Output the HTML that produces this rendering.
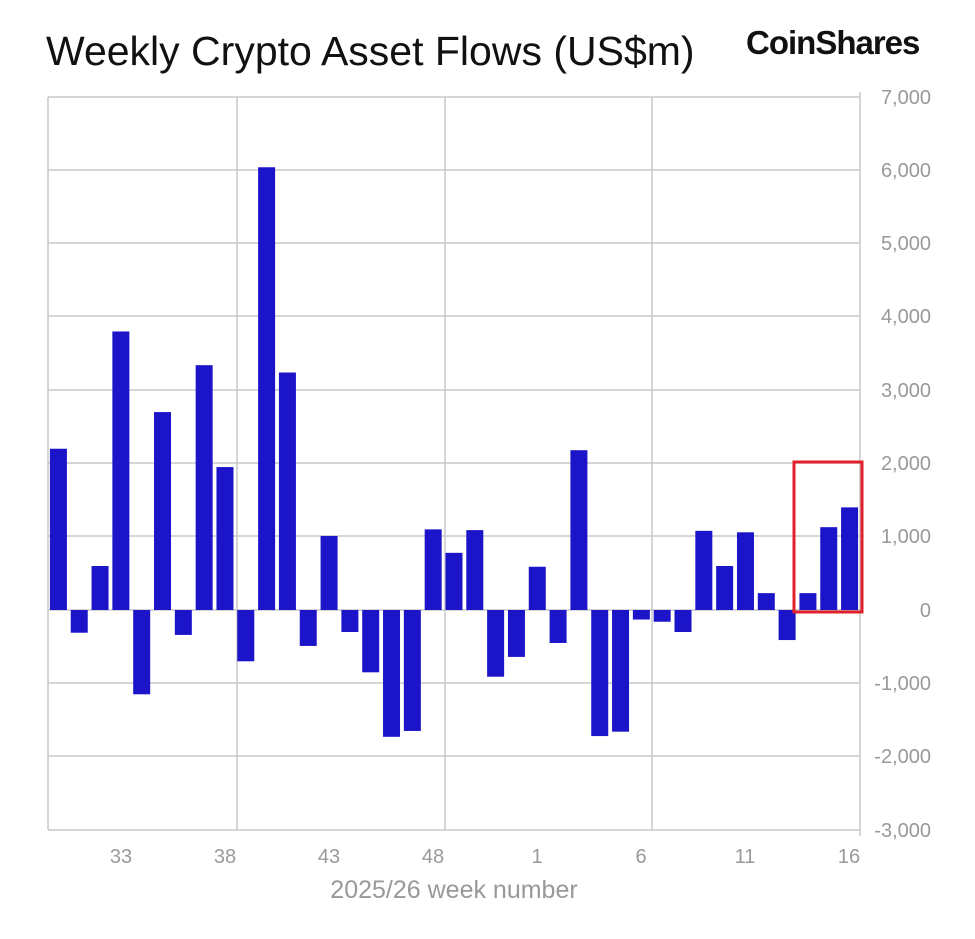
<!DOCTYPE html>
<html><head><meta charset="utf-8"><style>
body{margin:0;background:#fff;}
svg{display:block;font-family:"Liberation Sans",sans-serif;}
</style></head><body>
<svg id="c" width="975" height="939" viewBox="0 0 975 939">
<rect width="975" height="939" fill="#fff"/>
<text x="46" y="65" font-size="41" fill="#111">Weekly Crypto Asset Flows (US$m)</text>
<text x="746" y="54" font-size="33" font-weight="bold" fill="#111" letter-spacing="-1">CoinShares</text>
<g stroke="#c8c8c8" stroke-width="1.5">
<line x1="48" y1="97" x2="860" y2="97"/><line x1="48" y1="170" x2="860" y2="170"/>
<line x1="48" y1="243" x2="860" y2="243"/><line x1="48" y1="316" x2="860" y2="316"/>
<line x1="48" y1="390" x2="860" y2="390"/><line x1="48" y1="463" x2="860" y2="463"/>
<line x1="48" y1="536" x2="860" y2="536"/><line x1="48" y1="610" x2="860" y2="610"/>
<line x1="48" y1="683" x2="860" y2="683"/><line x1="48" y1="756" x2="860" y2="756"/>
<line x1="48" y1="830" x2="860" y2="830"/>
<line x1="48" y1="97" x2="48" y2="830"/><line x1="237" y1="97" x2="237" y2="830"/>
<line x1="445" y1="97" x2="445" y2="830"/><line x1="652" y1="97" x2="652" y2="830"/>
<line x1="860" y1="92" x2="860" y2="836"/>
</g>
<g font-size="20" fill="#999" text-anchor="end">
<text x="931" y="104">7,000</text><text x="931" y="177">6,000</text><text x="931" y="250">5,000</text>
<text x="931" y="323">4,000</text><text x="931" y="397">3,000</text><text x="931" y="470">2,000</text>
<text x="931" y="543">1,000</text><text x="931" y="617">0</text><text x="931" y="690">-1,000</text>
<text x="931" y="763">-2,000</text><text x="931" y="837">-3,000</text>
</g>
<g font-size="20" fill="#999" text-anchor="middle">
<text x="121" y="863">33</text><text x="225" y="863">38</text><text x="329" y="863">43</text>
<text x="433" y="863">48</text><text x="537" y="863">1</text><text x="641" y="863">6</text>
<text x="745" y="863">11</text><text x="849" y="863">16</text>
<text x="454" y="898" font-size="25">2025/26 week number</text>
</g>
<g id="bars" fill="#1c14c8"></g>
<rect x="794" y="462" width="68" height="150" fill="none" stroke="#e0202a" stroke-width="3"/>
</svg>
<script>
var v=[2200,-310,600,3800,-1150,2700,-340,3340,1950,-700,6040,3240,-490,1010,-300,-850,-1730,-1650,1100,780,1090,-910,-640,590,-450,2180,-1720,-1660,-130,-160,-300,1080,600,1060,230,-410,230,1130,1400];
var g=document.getElementById('bars'),s='';
for(var i=0;i<v.length;i++){var cx=48+20.82*(i+0.5),h=Math.abs(v[i])*0.0733,y=v[i]>0?610-h:610;
s+='<rect x="'+(cx-8.5)+'" y="'+y+'" width="17" height="'+h+'"/>';}
g.innerHTML=s;
</script>
</body></html>
